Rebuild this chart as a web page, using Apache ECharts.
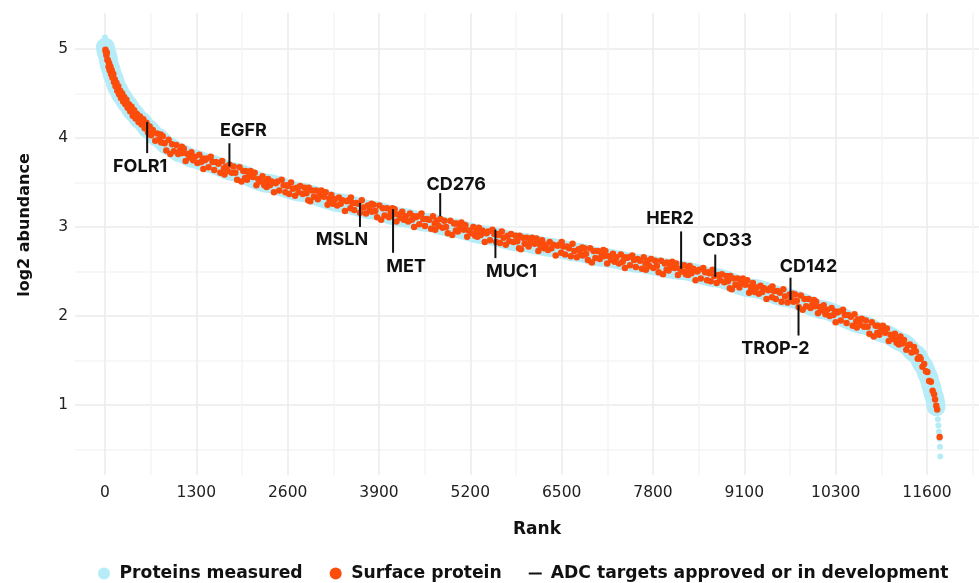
<!DOCTYPE html>
<html><head><meta charset="utf-8">
<script src="https://cdn.jsdelivr.net/npm/echarts@6/dist/echarts.min.js"></script>
<style>html,body{margin:0;padding:0;background:#fff}#c{width:979px;height:583px}</style>
</head><body><div id="c"></div>
<script>
// ---------- data ----------
const xTickLabels = ['0','1300','2600','3900','5200','6500','7800','9100','10300','11600'];
const yTickLabels = ['1','2','3','4','5'];

// centre line of the "Proteins measured" band (rank, log2 abundance)
const curveRank  = [5, 30, 70, 120, 170, 240, 310, 400, 500, 620, 740, 900, 1070, 1250, 1460, 1830, 2310, 2790, 3357, 3800, 4214, 4600, 4929, 5400, 5900, 6357, 6700, 7071, 7600, 8214, 8690, 9214, 9743, 10214, 10786, 11100, 11357, 11550, 11643, 11720, 11757, 11800, 11830];
const curveValue = [5.02, 4.94, 4.80, 4.68, 4.57, 4.47, 4.39, 4.29, 4.20, 4.10, 4.01, 3.91, 3.83, 3.77, 3.72, 3.62, 3.49, 3.39, 3.27, 3.19, 3.11, 3.05, 2.99, 2.91, 2.83, 2.77, 2.72, 2.66, 2.59, 2.51, 2.43, 2.31, 2.20, 2.07, 1.90, 1.80, 1.70, 1.57, 1.45, 1.32, 1.22, 1.10, 0.98];

// isolated measured proteins at the two ends
const endRank  = [0, 1, 3, 11845, 11855, 11862, 11870, 11877, 11884, 11890];
const endValue = [5.13, 5.08, 5.04, 0.91, 0.84, 0.77, 0.70, 0.62, 0.53, 0.42];

// surface proteins [rank, log2 abundance]
const surfacePoints = [
[6,4.99],[12,4.97],[20,4.93],[26,4.96],[34,4.88],[42,4.87],[50,4.80],[58,4.84],[66,4.76],[78,4.80],[86,4.72],[96,4.76],[105,4.68],[118,4.72],[128,4.63],[138,4.66],[150,4.58],[162,4.62],[175,4.53],[188,4.58],[200,4.49],[215,4.53],[228,4.45],[245,4.50],[258,4.41],[272,4.46],[290,4.38],[305,4.43],[322,4.34],[340,4.38],[358,4.30],[378,4.35],[395,4.25],[415,4.31],[435,4.22],[455,4.27],[478,4.18],[498,4.24],[520,4.15],[545,4.21],[565,4.11],[590,4.17],[612,4.06],[635,4.13],[655,4.03],[680,4.09],
[715,3.97],[742,4.05],[768,3.98],[793,4.04],[800,3.95],[822,4.02],[848,3.94],[873,3.86],[905,3.98],[930,3.82],[955,3.93],[980,3.85],
[1015,3.92],[1042,3.82],[1068,3.86],[1093,3.90],[1100,3.83],[1122,3.88],[1148,3.74],[1173,3.82],[1205,3.78],[1230,3.84],[1255,3.75],[1280,3.79],[1315,3.72],[1342,3.81],[1368,3.73],[1393,3.77],[1400,3.65],[1422,3.75],[1448,3.77],[1473,3.67],
[1505,3.79],[1530,3.73],[1555,3.64],[1580,3.73],[1615,3.71],[1642,3.61],[1668,3.74],[1693,3.66],[1700,3.59],[1722,3.68],[1748,3.63],[1773,3.70],[1805,3.61],[1830,3.68],[1855,3.61],[1880,3.53],[1915,3.67],[1942,3.51],[1968,3.63],[1993,3.55],
[2000,3.63],[2022,3.53],[2048,3.58],[2073,3.63],[2105,3.56],[2130,3.61],[2155,3.47],[2180,3.54],[2215,3.51],[2242,3.57],[2268,3.47],[2293,3.51],[2300,3.45],[2322,3.54],[2348,3.47],[2373,3.51],[2405,3.39],[2430,3.49],[2455,3.51],[2480,3.41],
[2515,3.53],[2542,3.47],[2568,3.39],[2593,3.47],[2600,3.46],[2622,3.37],[2648,3.50],[2673,3.43],[2705,3.35],[2730,3.44],[2755,3.39],[2780,3.46],[2815,3.37],[2842,3.44],[2868,3.38],[2893,3.30],[2900,3.44],[2922,3.29],[2948,3.41],[2973,3.34],
[3005,3.41],[3030,3.31],[3055,3.36],[3080,3.41],[3115,3.34],[3142,3.39],[3168,3.25],[3193,3.32],[3200,3.29],[3222,3.36],[3248,3.26],[3273,3.31],[3305,3.24],[3330,3.33],[3355,3.26],[3380,3.30],[3415,3.18],[3442,3.29],[3468,3.30],[3493,3.21],
[3500,3.33],[3522,3.27],[3548,3.19],[3573,3.27],[3605,3.26],[3630,3.16],[3655,3.30],[3680,3.22],[3715,3.15],[3742,3.24],[3768,3.19],[3793,3.26],[3800,3.17],[3822,3.25],[3848,3.18],[3873,3.11],[3905,3.24],[3930,3.08],[3955,3.21],[3980,3.13],
[4015,3.21],[4042,3.11],[4068,3.16],[4093,3.21],[4100,3.14],[4122,3.20],[4148,3.06],[4173,3.14],[4205,3.10],[4230,3.17],[4255,3.08],[4280,3.12],[4315,3.06],[4342,3.15],[4368,3.08],[4393,3.12],[4400,3.00],[4422,3.11],[4448,3.12],[4473,3.03],
[4505,3.15],[4530,3.09],[4555,3.01],[4580,3.09],[4615,3.08],[4642,2.98],[4668,3.12],[4693,3.04],[4700,2.97],[4722,3.07],[4748,3.01],[4773,3.09],[4805,2.99],[4830,3.07],[4855,3.00],[4880,2.93],[4915,3.07],[4942,2.91],[4968,3.04],[4993,2.96],
[5000,3.04],[5022,2.95],[5048,2.99],[5073,3.05],[5105,2.97],[5130,3.02],[5155,2.89],[5180,2.96],[5215,2.93],[5242,3.00],[5268,2.90],[5293,2.95],[5300,2.89],[5322,2.99],[5348,2.91],[5373,2.96],[5405,2.83],[5430,2.93],[5455,2.95],[5480,2.85],
[5515,2.97],[5542,2.92],[5568,2.83],[5593,2.92],[5600,2.91],[5622,2.82],[5648,2.95],[5673,2.88],[5705,2.80],[5730,2.90],[5755,2.84],[5780,2.92],[5815,2.83],[5842,2.90],[5868,2.84],[5893,2.76],[5900,2.90],[5922,2.75],[5948,2.88],[5973,2.81],
[6005,2.88],[6030,2.78],[6055,2.83],[6080,2.88],[6115,2.81],[6142,2.87],[6168,2.73],[6193,2.81],[6200,2.78],[6222,2.85],[6248,2.76],[6273,2.80],[6305,2.74],[6330,2.83],[6355,2.76],[6380,2.80],[6415,2.68],[6442,2.79],[6468,2.80],[6493,2.71],
[6500,2.83],[6522,2.78],[6548,2.69],[6573,2.78],[6605,2.76],[6630,2.67],[6655,2.81],[6680,2.73],[6715,2.66],[6742,2.75],[6768,2.70],[6793,2.77],[6800,2.68],[6822,2.76],[6848,2.70],[6873,2.63],[6905,2.76],[6930,2.60],[6955,2.73],[6980,2.65],
[7015,2.73],[7042,2.64],[7068,2.68],[7093,2.74],[7100,2.67],[7122,2.73],[7148,2.59],[7173,2.67],[7205,2.63],[7230,2.70],[7255,2.61],[7280,2.66],[7315,2.59],[7342,2.69],[7368,2.61],[7393,2.66],[7400,2.54],[7422,2.65],[7448,2.66],[7473,2.57],
[7505,2.68],[7530,2.63],[7555,2.55],[7580,2.64],[7615,2.62],[7642,2.53],[7668,2.66],[7693,2.59],[7700,2.52],[7722,2.62],[7748,2.56],[7773,2.64],[7805,2.54],[7830,2.62],[7855,2.56],[7880,2.49],[7915,2.62],[7942,2.47],[7968,2.59],[7993,2.52],
[8000,2.60],[8022,2.51],[8048,2.55],[8073,2.61],[8105,2.54],[8130,2.59],[8155,2.46],[8180,2.53],[8215,2.50],[8242,2.57],[8268,2.47],[8293,2.52],[8300,2.46],[8322,2.56],[8348,2.48],[8373,2.53],[8405,2.40],[8430,2.50],[8455,2.52],[8480,2.42],
[8515,2.54],[8542,2.49],[8568,2.40],[8593,2.49],[8600,2.48],[8622,2.39],[8648,2.52],[8673,2.45],[8705,2.37],[8730,2.46],[8755,2.40],[8780,2.47],[8815,2.38],[8842,2.45],[8868,2.39],[8893,2.31],[8900,2.45],[8922,2.30],[8948,2.42],[8973,2.35],
[9005,2.42],[9030,2.32],[9055,2.37],[9080,2.42],[9115,2.35],[9142,2.40],[9168,2.26],[9193,2.33],[9200,2.30],[9222,2.37],[9248,2.27],[9273,2.32],[9305,2.25],[9330,2.34],[9355,2.27],[9380,2.31],[9415,2.19],[9442,2.29],[9468,2.31],[9493,2.21],
[9500,2.33],[9522,2.28],[9548,2.19],[9573,2.28],[9605,2.26],[9630,2.16],[9655,2.30],[9680,2.22],[9715,2.15],[9742,2.24],[9768,2.18],[9793,2.25],[9800,2.16],[9822,2.24],[9848,2.17],[9873,2.10],[9905,2.23],[9930,2.07],[9955,2.19],[9980,2.11],
[10015,2.19],[10042,2.09],[10068,2.13],[10093,2.18],[10100,2.11],[10122,2.16],[10148,2.03],[10173,2.10],[10205,2.06],[10230,2.12],[10255,2.02],[10280,2.07],[10315,2.00],[10342,2.09],[10368,2.01],[10393,2.05],[10400,1.93],[10422,2.04],[10448,2.05],[10473,1.95],
[10505,2.07],[10530,2.01],[10555,1.92],[10580,2.01],[10615,1.99],[10642,1.89],[10668,2.02],[10693,1.94],[10700,1.87],[10722,1.96],[10748,1.90],[10773,1.97],[10805,1.88],[10830,1.95],[10855,1.88],[10880,1.80],[10915,1.93],[10942,1.77],[10968,1.89],[10993,1.81],
[11000,1.89],[11022,1.79],[11048,1.84],[11073,1.89],[11105,1.81],[11130,1.86],[11155,1.72],[11180,1.79],[11215,1.74],[11242,1.80],[11268,1.70],[11293,1.74],[11300,1.68],[11322,1.77],[11348,1.69],[11373,1.73],[11405,1.62],[11430,1.67],[11455,1.68],[11480,1.59],
[11515,1.65],[11542,1.60],[11568,1.52],[11593,1.54],[11610,1.52],[11635,1.43],[11660,1.46],[11685,1.38],[11705,1.37],[11730,1.27],[11755,1.26],[11780,1.16],[11800,1.12],[11815,1.06],[11832,0.99],[11845,0.95],[11880,0.64]
];

// ADC targets approved or in development
const adcNames  = ['FOLR1','EGFR','MSLN','MET','CD276','MUC1','HER2','CD33','CD142','TROP-2'];
const adcRank   = [600, 1771, 3629, 4100, 4771, 5557, 8200, 8686, 9757, 9871];
const adcTop    = [4.18, 3.94, 3.27, 3.20, 3.38, 2.97, 2.95, 2.69, 2.43, 2.12];
const adcBottom = [3.83, 3.68, 3.00, 2.71, 3.12, 2.65, 2.53, 2.44, 2.18, 1.78];

// ---------- layout / style ----------
const adcLabelOffset = [[-7,14],[14,-13],[-18,13],[13,14],[16,-9],[16,13],[-11,-13],[12,-14],[18,-11],[-23,13]];
const CYAN = '#b6ecf8', ORANGE = '#fc4c0c', INK = '#111111';
const FONT = 'DejaVu Sans';

const xGrid = []; for (let v = 0; v <= 12350; v += 650) xGrid.push(v);
const xLabelPos = xTickLabels.map((_, i) => i * 1300);
const yGrid = []; for (let v = 0.5; v <= 5.0001; v += 0.5) yGrid.push(Math.round(v * 10) / 10);
const yLabelPos = yTickLabels.map(Number);

const chart = echarts.init(document.getElementById('c'), null, {renderer: 'canvas'});
chart.setOption({
  animation: false,
  backgroundColor: '#fff',
  grid: {left: 75, right: 0, top: 13, bottom: 108},
  xAxis: {
    type: 'value', min: -427, max: 12440,
    axisLine: {show: false},
    axisTick: {show: false, customValues: xGrid},
    splitLine: {show: true, lineStyle: {color: ['#ebebeb', '#f4f4f4'], width: 1.5}},
    axisLabel: {customValues: xLabelPos, formatter: v => xTickLabels[Math.round(v / 1300)],
      color: '#222', fontSize: 15.5, fontFamily: FONT, margin: 10},
    name: 'Rank', nameLocation: 'middle', nameGap: 46,
    nameTextStyle: {fontFamily: FONT, fontWeight: 'bold', fontSize: 17, color: INK, padding: [0, 0, 0, 20]}
  },
  yAxis: {
    type: 'value', min: 0.213, max: 5.404,
    axisLine: {show: false},
    axisTick: {show: false, customValues: yGrid},
    splitLine: {show: true, lineStyle: {color: ['#f4f4f4', '#ebebeb'], width: 1.5}},
    axisLabel: {customValues: yLabelPos, formatter: v => String(v),
      color: '#222', fontSize: 15.5, fontFamily: FONT, margin: 7},
    name: 'log2 abundance', nameLocation: 'middle', nameGap: 42,
    nameTextStyle: {fontFamily: FONT, fontWeight: 'bold', fontSize: 16, color: INK, padding: [0, 0, 0, 38]}
  },
  legend: {
    left: 93, top: 560, itemWidth: 13, itemHeight: 12, itemGap: 27,
    textStyle: {fontFamily: FONT, fontWeight: 'bold', fontSize: 17.2, color: INK, padding: [0, 0, 0, 4]},
    data: [
      {name: 'Proteins measured', icon: 'circle'},
      {name: 'Surface protein', icon: 'circle'},
      {name: 'ADC targets approved or in development', icon: 'path://M0,0H13V2H0Z'}
    ]
  },
  series: [
    {
      name: 'Proteins measured', type: 'scatter', z: 2,
      symbolSize: 6, itemStyle: {color: CYAN, opacity: 1},
      data: endRank.map((r, i) => [r, endValue[i]])
    },
    {
      name: 'Proteins measured', type: 'line', z: 1,
      showSymbol: false, symbol: 'none', smooth: 0.25, smoothMonotone: 'x',
      itemStyle: {color: CYAN},
      lineStyle: {color: CYAN, width: 19, cap: 'round', join: 'round'},
      data: curveRank.map((r, i) => [r, curveValue[i]])
    },
    {
      name: 'Surface protein', type: 'scatter', z: 3,
      symbolSize: 6.5, itemStyle: {color: ORANGE, opacity: 1},
      data: surfacePoints
    },
    {
      name: 'ADC targets approved or in development', type: 'custom', z: 4,
      itemStyle: {color: INK},
      encode: {x: 0, y: 1},
      data: adcRank.map((r, i) => [r, adcTop[i], adcBottom[i]]),
      renderItem: function (params, api) {
        const i = params.dataIndex;
        const r = api.value(0);
        const p1 = api.coord([r, api.value(1)]);
        const p2 = api.coord([r, api.value(2)]);
        const off = adcLabelOffset[i];
        const ay = off[1] < 0 ? p1[1] : p2[1];
        return {
          type: 'group',
          children: [
            {type: 'line', shape: {x1: p1[0], y1: p1[1], x2: p2[0], y2: p2[1]},
             style: {stroke: INK, lineWidth: 2}},
            {type: 'text', x: p1[0] + off[0], y: ay + off[1],
             style: {text: adcNames[i], font: 'bold 18px Inter', fill: INK, align: 'center', verticalAlign: 'middle'}}
          ]
        };
      }
    }
  ]
});
</script>
</body></html>
